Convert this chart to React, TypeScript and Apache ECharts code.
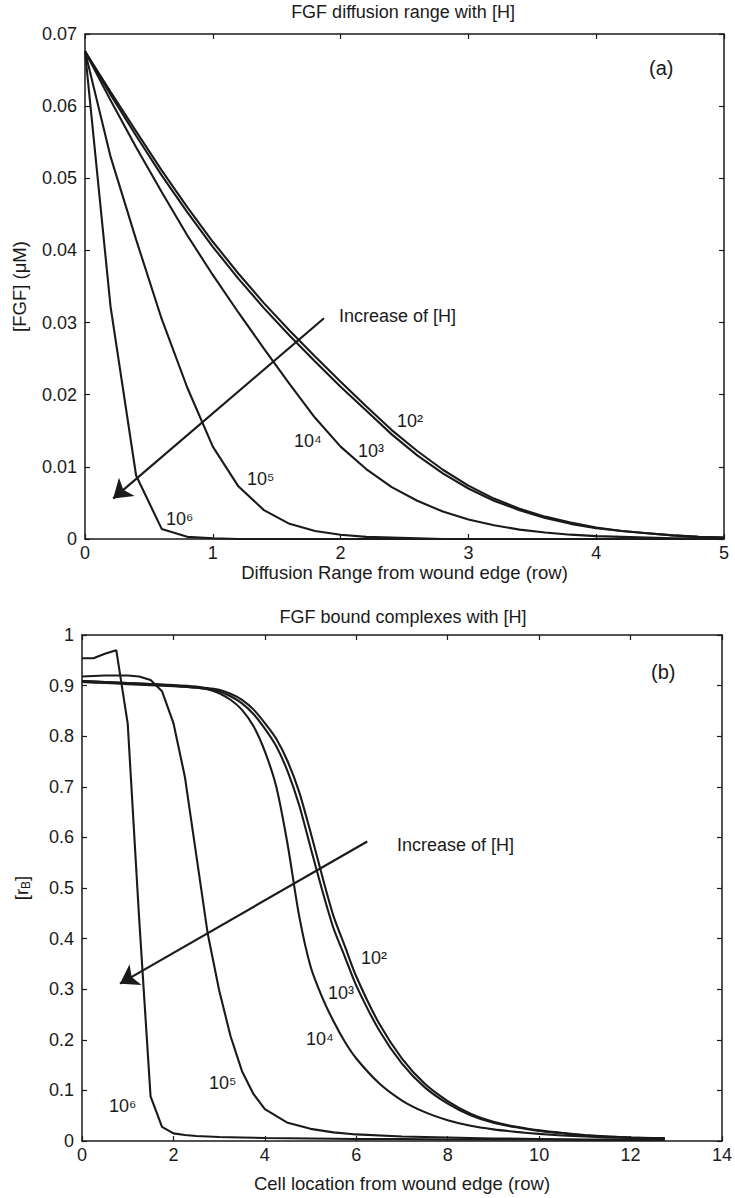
import React, { useEffect, useRef } from "react";
import * as echarts from "echarts";

// ---------- Panel (a): FGF concentration vs diffusion range ----------
const topX = [0, 0.2, 0.4, 0.6, 0.8, 1, 1.2, 1.4, 1.6, 1.8, 2, 2.2, 2.4, 2.6, 2.8, 3, 3.2, 3.4, 3.6, 3.8, 4, 4.2, 4.4, 4.6, 4.8, 5];
const fgfH1e2 = [0.0676, 0.0620, 0.0565, 0.0511, 0.0460, 0.0412, 0.0368, 0.0327, 0.0289, 0.0253, 0.0218, 0.0184, 0.0151, 0.0122, 0.0096, 0.0074, 0.0056, 0.0042, 0.0031, 0.0023, 0.0016, 0.0011, 0.0008, 0.0005, 0.0003, 0.0002];
const fgfH1e3 = [0.0676, 0.0616, 0.0559, 0.0504, 0.0453, 0.0405, 0.0361, 0.032, 0.0282, 0.0246, 0.0211, 0.0178, 0.0145, 0.0116, 0.0091, 0.007, 0.0053, 0.004, 0.0029, 0.0021, 0.0015, 0.0011, 0.0008, 0.0005, 0.0003, 0.0002];
const fgfH1e4 = [0.0676, 0.0608, 0.0543, 0.0481, 0.0421, 0.0366, 0.0314, 0.0264, 0.0215, 0.0168, 0.0128, 0.0097, 0.0072, 0.0053, 0.0038, 0.0027, 0.0019, 0.0013, 0.0009, 0.0006, 0.0004, 0.0003, 0.0002, 0.0001, 0.0001, 0];
const fgfH1e5 = [0.0676, 0.053, 0.0415, 0.0305, 0.021, 0.0128, 0.0073, 0.004, 0.0021, 0.0011, 0.0006, 0.0003, 0.0002, 0.0001, 0, 0, 0, 0, 0, 0, 0, 0, 0, 0, 0, 0];
const fgfH1e6 = [0.0676, 0.0322, 0.0088, 0.0014, 0.0003, 0.0001, 0, 0, 0, 0, 0, 0, 0, 0, 0, 0, 0, 0, 0, 0, 0, 0, 0, 0, 0, 0];
const topArrowFrom = [1.87, 0.0306];
const topArrowTo = [0.22, 0.0056];

// ---------- Panel (b): bound complexes vs cell location ----------
const botX = [0, 0.5, 1, 1.5, 2, 2.5, 2.75, 3, 3.25, 3.5, 3.75, 4, 4.25, 4.5, 4.75, 5, 5.25, 5.5, 5.75, 6, 6.5, 7, 7.5, 8, 8.5, 9, 9.5, 10, 10.5, 11, 11.5, 12, 12.5, 12.75];
const rbH1e2 = [0.909, 0.907, 0.905, 0.903, 0.901, 0.898, 0.895, 0.892, 0.884, 0.872, 0.853, 0.826, 0.795, 0.75, 0.69, 0.61, 0.525, 0.445, 0.385, 0.325, 0.232, 0.163, 0.113, 0.079, 0.054, 0.038, 0.028, 0.021, 0.016, 0.012, 0.009, 0.007, 0.006, 0.006];
const rbH1e3 = [0.907, 0.905, 0.903, 0.901, 0.899, 0.896, 0.893, 0.889, 0.879, 0.865, 0.844, 0.815, 0.78, 0.73, 0.664, 0.58, 0.497, 0.421, 0.364, 0.307, 0.219, 0.153, 0.106, 0.074, 0.051, 0.036, 0.027, 0.02, 0.015, 0.011, 0.009, 0.007, 0.006, 0.005];
const rbH1e4 = [0.909, 0.907, 0.905, 0.903, 0.9, 0.896, 0.893, 0.885, 0.872, 0.852, 0.82, 0.77, 0.7, 0.585, 0.445, 0.345, 0.285, 0.237, 0.196, 0.163, 0.114, 0.08, 0.057, 0.041, 0.03, 0.023, 0.018, 0.014, 0.011, 0.009, 0.007, 0.006, 0.005, 0.005];
const botX5 = [0, 0.25, 0.5, 0.75, 1, 1.25, 1.5, 1.75, 2, 2.25, 2.5, 2.75, 3, 3.25, 3.5, 3.75, 4, 4.5, 5, 5.5, 6, 7, 8, 9, 10, 11, 12, 12.75];
const rbH1e5 = [0.918, 0.919, 0.92, 0.92, 0.92, 0.918, 0.911, 0.889, 0.826, 0.72, 0.565, 0.41, 0.298, 0.207, 0.138, 0.093, 0.063, 0.036, 0.024, 0.017, 0.013, 0.009, 0.007, 0.005, 0.004, 0.003, 0.003, 0.002];
const botX6 = [0, 0.25, 0.5, 0.75, 1, 1.25, 1.5, 1.75, 2, 2.25, 2.5, 3, 3.5, 4, 5, 6, 7, 8, 9, 10, 11, 12, 12.75];
const rbH1e6 = [0.954, 0.954, 0.963, 0.97, 0.825, 0.44, 0.088, 0.028, 0.015, 0.012, 0.01, 0.008, 0.007, 0.006, 0.005, 0.004, 0.004, 0.003, 0.003, 0.003, 0.002, 0.002, 0.002];
const botArrowFrom = [6.24, 0.592];
const botArrowTo = [0.83, 0.311];

const FONT = "'Liberation Sans', Arial, Helvetica, 'Noto Sans', 'DejaVu Sans', sans-serif";
const INK = "#1a1a1a";
const FS = 18;

const pairs = (xs: number[], ys: number[]) => xs.map((x, i) => [x, ys[i]]);

function curve(name: string, xs: number[], ys: number[], axis: number, smooth: number | boolean, extra: any = {}) {
  return {
    type: "line",
    name,
    xAxisIndex: axis,
    yAxisIndex: axis,
    data: pairs(xs, ys),
    symbol: "none",
    showSymbol: false,
    smooth,
    silent: true,
    lineStyle: { color: INK, width: 2.1 },
    z: 3,
    ...extra,
  };
}

function arrow(from: number[], to: number[]) {
  return {
    silent: true,
    symbol: ["none", "arrow"],
    symbolSize: 18,
    label: { show: false },
    emphasis: { disabled: true },
    lineStyle: { color: INK, width: 2.2, type: "solid" },
    data: [[{ coord: from }, { coord: to }]],
  };
}

function mainAxisX(grid: number, max: number, interval: number, name: string, nameGap: number) {
  return {
    type: "value",
    gridIndex: grid,
    position: "bottom",
    min: 0,
    max,
    interval,
    name,
    nameLocation: "middle",
    nameGap,
    nameTextStyle: { fontFamily: FONT, fontSize: 18.5, color: INK },
    axisLine: { show: true, onZero: false, lineStyle: { color: INK, width: 1.5 } },
    axisTick: { show: true, inside: true, length: 5, lineStyle: { color: INK, width: 1.2 } },
    axisLabel: { show: true, margin: 5, fontFamily: FONT, fontSize: FS, color: INK },
    splitLine: { show: false },
  };
}

function mirrorAxisX(grid: number, max: number, interval: number) {
  return {
    type: "value",
    gridIndex: grid,
    position: "top",
    min: 0,
    max,
    interval,
    axisLine: { show: true, onZero: false, lineStyle: { color: INK, width: 1.5 } },
    axisTick: { show: true, inside: true, length: 5, lineStyle: { color: INK, width: 1.2 } },
    axisLabel: { show: false },
    splitLine: { show: false },
  };
}

function mainAxisY(grid: number, max: number, interval: number, name: string, nameGap: number, fmt: (v: number) => string, rich?: any) {
  return {
    type: "value",
    gridIndex: grid,
    position: "left",
    min: 0,
    max,
    interval,
    name,
    nameLocation: "middle",
    nameGap,
    nameRotate: 90,
    nameTextStyle: { fontFamily: FONT, fontSize: 18.5, color: INK, lineHeight: 22, rich },
    axisLine: { show: true, onZero: false, lineStyle: { color: INK, width: 1.5 } },
    axisTick: { show: true, inside: true, length: 5, lineStyle: { color: INK, width: 1.2 } },
    axisLabel: { show: true, margin: 8, fontFamily: FONT, fontSize: FS, color: INK, formatter: fmt },
    splitLine: { show: false },
  };
}

function mirrorAxisY(grid: number, max: number, interval: number) {
  return {
    type: "value",
    gridIndex: grid,
    position: "right",
    min: 0,
    max,
    interval,
    axisLine: { show: true, onZero: false, lineStyle: { color: INK, width: 1.5 } },
    axisTick: { show: true, inside: true, length: 5, lineStyle: { color: INK, width: 1.2 } },
    axisLabel: { show: false },
    splitLine: { show: false },
  };
}

function label(text: string, x: number, y: number, size = FS, align = "left") {
  return {
    type: "text",
    x,
    y,
    silent: true,
    z: 10,
    style: { text, fontFamily: FONT, fontSize: size, fill: INK, align, verticalAlign: "middle" },
  };
}

export default function App() {
  const ref = useRef<HTMLDivElement>(null);

  useEffect(() => {
    if (!ref.current) return;
    const chart = echarts.init(ref.current, null, { renderer: "svg" });
    const topFmt = (v: number) => (v === 0 ? "0" : v.toFixed(2));
    const botFmt = (v: number) => (v === 0 ? "0" : v === 1 ? "1" : v.toFixed(1));

    chart.setOption({
      animation: false,
      backgroundColor: "#ffffff",
      grid: [
        { left: 82, top: 34, width: 642, height: 505, containLabel: false },
        { left: 82, top: 635, width: 642, height: 506, containLabel: false },
      ],
      xAxis: [
        mainAxisX(0, 5, 1, "Diffusion Range from wound edge (row)", 17),
        mirrorAxisX(0, 5, 1),
        mainAxisX(1, 14, 2, "Cell location from wound edge (row)", 33),
        mirrorAxisX(1, 14, 2),
      ],
      yAxis: [
        mainAxisY(0, 0.07, 0.01, "[FGF] (\u03bcM)", 55, topFmt),
        mirrorAxisY(0, 0.07, 0.01),
        mainAxisY(1, 1, 0.1, "[r{sub|B}]", 50, botFmt, {
          sub: { fontFamily: FONT, fontSize: 12, color: INK, verticalAlign: "bottom", lineHeight: 22 },
        }),
        mirrorAxisY(1, 1, 0.1),
      ],
      series: [
        curve("[H]=1e2", topX, fgfH1e2, 0, false),
        curve("[H]=1e3", topX, fgfH1e3, 0, false),
        curve("[H]=1e4", topX, fgfH1e4, 0, false),
        curve("[H]=1e5", topX, fgfH1e5, 0, false),
        curve("[H]=1e6", topX, fgfH1e6, 0, false, { markLine: arrow(topArrowFrom, topArrowTo) }),
        curve("rB 1e2", botX, rbH1e2, 2, 0.25),
        curve("rB 1e3", botX, rbH1e3, 2, 0.25),
        curve("rB 1e4", botX, rbH1e4, 2, 0.25),
        curve("rB 1e5", botX5, rbH1e5, 2, false),
        curve("rB 1e6", botX6, rbH1e6, 2, false, { markLine: arrow(botArrowFrom, botArrowTo) }),
      ],
      graphic: [
        label("FGF diffusion range with [H]", 403, 12, 18, "center"),
        label("FGF bound complexes with [H]", 403, 617, 18, "center"),
        label("(a)", 649, 68, 20),
        label("(b)", 651, 672, 20),
        label("Increase of [H]", 339, 316),
        label("10\u00b2", 397, 421),
        label("10\u00b3", 358, 451),
        label("10\u2074", 294, 441),
        label("10\u2075", 247, 479),
        label("10\u2076", 166, 519),
        label("Increase of [H]", 397, 845),
        label("10\u00b2", 361, 958),
        label("10\u00b3", 328, 993),
        label("10\u2074", 306, 1039),
        label("10\u2075", 209, 1083),
        label("10\u2076", 109, 1106),
      ],
    });

    return () => chart.dispose();
  }, []);

  return (
    <div
      ref={ref}
      style={{ position: "absolute", left: 0, top: 0, width: 735, height: 1198, background: "#fff" }}
    />
  );
}
